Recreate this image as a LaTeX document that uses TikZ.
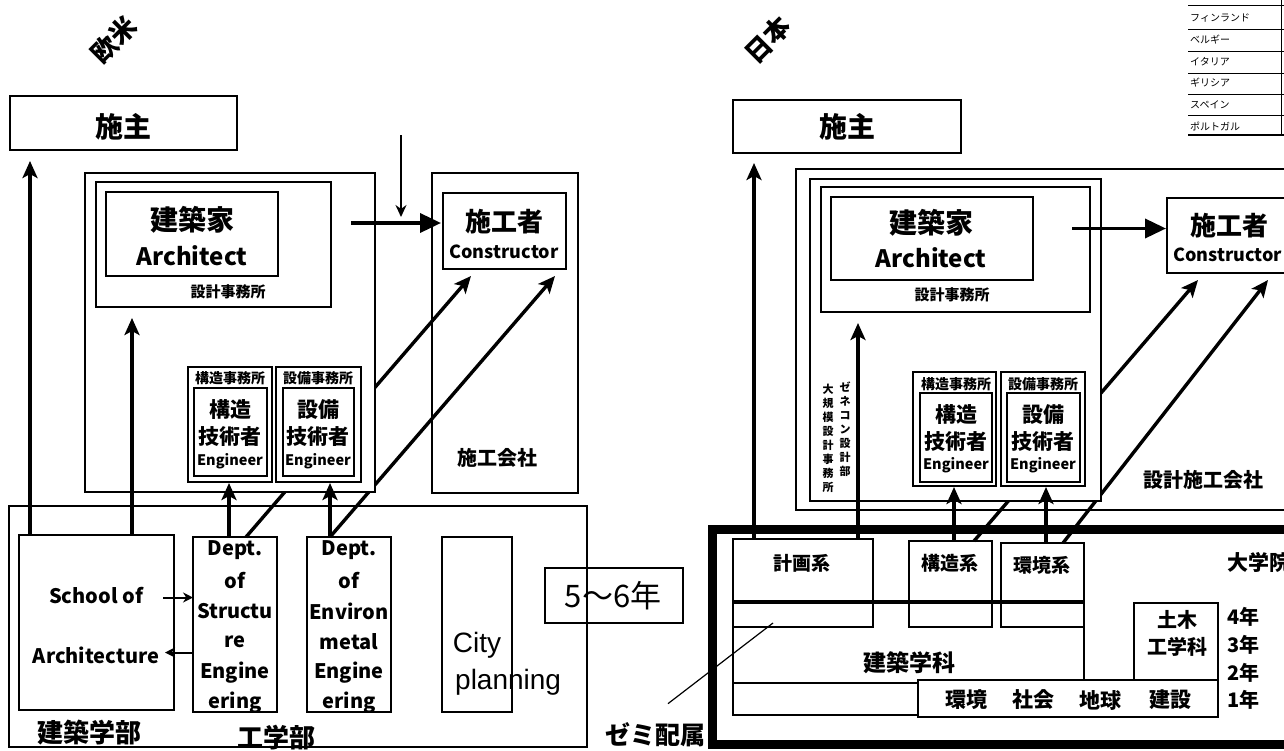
\documentclass[tikz,border=0pt]{standalone}
\usepackage{fontspec}
\setmainfont{Noto Sans CJK JP}
\newfontfamily\arialf{Liberation Sans}
\usetikzlibrary{arrows.meta}
\pgfdeclarelayer{bg}
\pgfsetlayers{bg,main}
\newcommand\fs[1]{\fontsize{#1}{#1}\selectfont}
\newcommand\bx[6][]{\pgfmathsetmacro\bxw{#5-#3}\pgfmathsetmacro\bxh{#6-#4}%
  \node[bxs,minimum width=\bxw pt,minimum height=\bxh pt,anchor=north west,#1] (#2) at (#3,#4) {};}
\tikzset{
  bxs/.style={draw,line width=1.5pt,inner sep=0pt,outer sep=0pt,rectangle},
  wbx/.style={fill=white},
  arr/.style={line width=3.4pt,-{Stealth[length=17pt,width=15pt,inset=4pt]}},
  bigarr/.style={line width=3.6pt,-{Triangle[length=21pt,width=19pt]}},
  smallarr/.style={line width=2pt,-{Stealth[length=10pt,width=10pt]}},
  thinarr/.style={line width=1.8pt,-{Stealth[length=12pt,width=11pt]}},
  bline/.style={line width=1.5pt},
  lbl/.style={inner sep=0pt,font=\bfseries\fs{#1}},
  rlbl/.style={inner sep=0pt,font=\fs{#1}},
}
\begin{document}
\begin{tikzpicture}[x=1pt,y=-1pt]
\useasboundingbox (0,0) rectangle (1284,750);

% ================= LEFT (欧米) =================
\node[lbl=26,rotate=45] (tOubei) at (114,40) {欧米};
\bx{owner}{10}{96}{237}{150}
\node[lbl=28] (tOwner) at (123,127) {施主};

\bx[wbx]{ofcOuter}{85}{173}{375}{492}
\bx{ofcInner}{96}{182}{331}{307}
\bx{archBox}{106}{192}{278}{276}
\node[lbl=28] (tArch) at (192,220) {建築家};
\node[lbl=24] (tArchE) at (192,256) {Architect};
\node[lbl=15] (tOfc) at (228,292) {設計事務所};

\bx{engSo}{188}{367}{272}{482}
\bx{engS}{194}{388}{267}{476}
\bx{engEo}{276}{367}{361}{482}
\bx{engE}{283}{388}{354}{476}
\node[lbl=14] (tSo) at (230,378) {構造事務所};
\node[lbl=21] (tS1) at (230,410) {構造};
\node[lbl=21] (tS2) at (230,437) {技術者};
\node[lbl=14.5] (tS3) at (230,461) {Engineer};
\node[lbl=14] (tEo) at (318,378) {設備事務所};
\node[lbl=21] (tE1) at (318,410) {設備};
\node[lbl=21] (tE2) at (318,437) {技術者};
\node[lbl=14.5] (tE3) at (318,461) {Engineer};

\bx{conCo}{432}{173}{578}{493}
\bx{conBox}{443}{193}{566}{269}
\node[lbl=26] (tCon) at (504,222) {施工者};
\node[lbl=18] (tConE) at (504,252) {Constructor};
\node[lbl=20] (tConCo) at (497,458) {施工会社};

\bx{faculty}{9}{506}{587}{747}
\bx{school}{19}{535}{174}{710}
\bx{deptS}{193}{537}{277}{712}
\bx{deptE}{307}{537}{391}{712}
\bx{city}{442}{537}{512}{712}
\bx{years}{545}{568}{683}{623}
\node[lbl=20] (tSch1) at (96,595) {School of};
\node[lbl=20] (tSch2) at (96,655) {Architecture};
\foreach \t [count=\i from 0] in {Dept.,of,Structu,re,Engine,ering}
  \node[lbl=20] (ds\i) at (235,{550+30.6*\i}) {\t};
\foreach \t [count=\i from 0] in {Dept.,of,Environ,metal,Engine,ering}
  \node[lbl=20] (de\i) at (349,{550+30.6*\i}) {\t};
\node[inner sep=0pt,font=\arialf\fs{28}] (tCity) at (477,645) {City};
\node[inner sep=0pt,font=\arialf\fs{28},anchor=west] (tPlan) at (455,682) {planning};
\node[rlbl=31] (tYears) at (613,596) {5〜6年};
\node[lbl=26] (tKG) at (89,733) {建築学部};
\node[lbl=26] (tKo) at (276,738) {工学部};

% connectors left
\begin{pgfonlayer}{bg}
\draw[arr] ([xshift=53pt]deptS.north west) -- ([xshift=28pt,yshift=-7pt]conBox.south west);
\draw[arr] ([xshift=23pt]deptE.north west) -- ([xshift=112pt,yshift=-7pt]conBox.south west);
\end{pgfonlayer}
\draw[arr] ([xshift=11pt]school.north west) -- ([xshift=20pt,yshift=-11pt]owner.south west);
\draw[arr] ([xshift=113pt]school.north west) -- ([xshift=36pt,yshift=-11pt]ofcInner.south west);
\draw[arr] ([xshift=36pt]deptS.north west) -- ([xshift=41pt,yshift=-1pt]engSo.south west);
\draw[arr] ([xshift=23pt]deptE.north west) -- ([xshift=54pt,yshift=-1pt]engEo.south west);
\draw[bigarr] ([xshift=73pt,yshift=11pt]archBox.east) -- ([xshift=-2pt,yshift=8pt]conBox.west);
\coordinate (dtop) at (401,135);
\coordinate (dbot) at (401,217);
\draw[thinarr] (dtop) -- (dbot);
\draw[smallarr] ([xshift=-11pt,yshift=25pt]school.east) -- ([yshift=27pt]deptS.west);
\draw[smallarr] ([yshift=-28pt]deptS.west) -- ([xshift=-9pt,yshift=-30pt]school.east);

% ================= RIGHT (日本) =================
\node[lbl=26,rotate=45] (tNihon) at (768,40) {日本};
\bx{owner2}{733}{100}{961}{153}
\node[lbl=28] (tOwner2) at (847,127) {施主};

\bx{dbCo}{796}{169}{1300}{510}
\bx[wbx]{gencon}{810}{179}{1101}{501}
\bx{ofcInner2}{821}{187}{1090}{312}
\bx{archBox2}{831}{197}{1033}{280}
\node[lbl=28] (tArch2) at (931,223) {建築家};
\node[lbl=24] (tArchE2) at (931,258) {Architect};
\node[lbl=15] (tOfc2) at (952,295) {設計事務所};
\node[inner sep=0pt,align=center,font=\bfseries\fontsize{11}{14}\selectfont] (vt1) at (845,429) {ゼ\\ネ\\コ\\ン\\設\\計\\部};
\node[inner sep=0pt,align=center,font=\bfseries\fontsize{11}{14}\selectfont] (vt2) at (828,438) {大\\規\\模\\設\\計\\事\\務\\所};

\bx{engSo2}{913}{372}{996}{486}
\bx{engS2}{920}{393}{992}{482}
\bx{engEo2}{1001}{372}{1085}{486}
\bx{engE2}{1007}{393}{1080}{482}
\node[lbl=14] (tSo2) at (956,384) {構造事務所};
\node[lbl=21] (tS12) at (956,415) {構造};
\node[lbl=21] (tS22) at (956,442) {技術者};
\node[lbl=14.5] (tS32) at (956,465) {Engineer};
\node[lbl=14] (tEo2) at (1043,384) {設備事務所};
\node[lbl=21] (tE12) at (1043,415) {設備};
\node[lbl=21] (tE22) at (1043,442) {技術者};
\node[lbl=14.5] (tE32) at (1043,465) {Engineer};

\bx{conBox2}{1167}{198}{1300}{273}
\node[lbl=26] (tCon2) at (1229,226) {施工者};
\node[lbl=18,anchor=west] (tConE2) at (1173,255) {Constructor};
\node[lbl=20] (tDB) at (1203,480) {設計施工会社};

\node[lbl=25] (zemi) at (655,735) {ゼミ配属};
\bx[line width=9pt]{grad}{712}{529}{1300}{744}
\bx{keikaku}{733}{539}{873}{627}
\bx{kozo}{909}{541}{992}{627}
\bx{kankyo}{1001}{543}{1084}{627}
\draw[line width=4pt] (733,602) -- (1084,602);
\draw[bline] (733,627) -- (733,715) -- (918,715);
\draw[bline] (733,683) -- (918,683);
\draw[bline] (1084,627) -- (1084,680);
\bx{bottomRow}{918}{680}{1218}{717}
\bx{doboku}{1134}{603}{1218}{680}
\node[lbl=19] (tKei) at (802,563) {計画系};
\node[lbl=19] (tKoz) at (950,563) {構造系};
\node[lbl=19] (tKan) at (1042,565) {環境系};
\node[lbl=21,anchor=west] (tDai) at (1227,562) {大学院};
\node[lbl=20] (tDo1) at (1177,620) {土木};
\node[lbl=20] (tDo2) at (1177,647) {工学科};
\node[lbl=20,anchor=west] (y4) at (1227,617) {4年};
\node[lbl=20,anchor=west] (y3) at (1227,645) {3年};
\node[lbl=20,anchor=west] (y2) at (1227,673) {2年};
\node[lbl=20,anchor=west] (y1) at (1227,700) {1年};
\node[lbl=23] (tKen) at (909,663) {建築学科};
\node[lbl=21] (b1) at (966,700) {環境};
\node[lbl=21] (b2) at (1033,700) {社会};
\node[lbl=21] (b3) at (1100,700) {地球};
\node[lbl=21] (b4) at (1170,700) {建設};

% connectors right
\begin{pgfonlayer}{bg}
\draw[arr] ([xshift=65pt]kozo.north west) -- ([xshift=31pt,yshift=-7pt]conBox2.south west);
\draw[arr] ([xshift=62pt]kankyo.north west) -- ([xshift=101pt,yshift=-7pt]conBox2.south west);
\end{pgfonlayer}
\draw[arr] ([xshift=21pt]keikaku.north west) -- ([xshift=21pt,yshift=-10pt]owner2.south west);
\draw[arr] ([xshift=125pt]keikaku.north west) -- ([xshift=37pt,yshift=-11pt]ofcInner2.south west);
\draw[arr] ([xshift=45pt]kozo.north west) -- ([xshift=41pt,yshift=-1pt]engSo2.south west);
\draw[arr] ([xshift=45pt]kankyo.north west) -- ([xshift=45pt,yshift=-1pt]engEo2.south west);
\draw[bigarr] ([xshift=39pt,yshift=10pt]archBox2.east) -- ([xshift=-1pt,yshift=7pt]conBox2.west);
\coordinate (zemiend) at (773,623);
\draw[line width=1.2pt] ([xshift=13pt,yshift=19pt]zemi.north) -- (zemiend);

% ================= table (top right) =================
\foreach \yy in {5,29,51,73,94,115} \draw[line width=0.8pt] (1188,\yy) -- (1284,\yy);
\draw[line width=2.5pt] (1188,135) -- (1284,135);
\draw[line width=1pt] (1281,0) -- (1281,135);
\foreach \t/\yy [count=\i] in {デンマーク/-4,フィンランド/18,ベルギー/40,イタリア/62,ギリシア/83,スペイン/105,ポルトガル/126}
  \node[rlbl=10,anchor=west] (tb\i) at (1190,\yy) {\t};
\end{tikzpicture}
\end{document}
